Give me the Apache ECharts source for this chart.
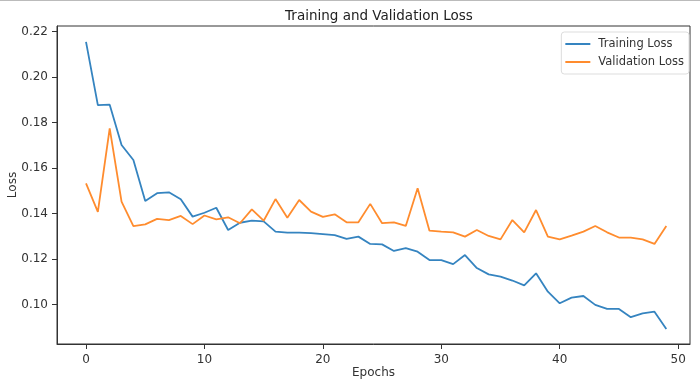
<!DOCTYPE html>
<html>
<head>
<meta charset="utf-8">
<script src="https://cdn.jsdelivr.net/npm/echarts@6/dist/echarts.min.js"></script>
<style>
html,body{margin:0;padding:0;background:#fff;}
#main{width:700px;height:383px;}
</style>
</head>
<body>
<div id="main"></div>
<script>
const epochs = Array.from({length: 50}, (_, i) => i);
const trainingLoss = [
  0.2155, 0.1877, 0.1879, 0.1702, 0.1636, 0.1456, 0.1490, 0.1494, 0.1463, 0.1387,
  0.1404, 0.1426, 0.1328, 0.1360, 0.1369, 0.1366, 0.1321, 0.1317, 0.1317, 0.1314,
  0.1310, 0.1306, 0.1289, 0.1299, 0.1267, 0.1265, 0.1236, 0.1248, 0.1233, 0.1196,
  0.1196, 0.1178, 0.1218, 0.1161, 0.1133, 0.1123, 0.1106, 0.1085, 0.1138, 0.1057,
  0.1006, 0.1031, 0.1038, 0.0999, 0.0981, 0.0981, 0.0945, 0.0962, 0.0969, 0.0893
];
const validationLoss = [
  0.1533, 0.1408, 0.1775, 0.1453, 0.1345, 0.1353, 0.1377, 0.1372, 0.1390, 0.1354,
  0.1392, 0.1375, 0.1384, 0.1358, 0.1419, 0.1369, 0.1464, 0.1382, 0.1460, 0.1409,
  0.1386, 0.1397, 0.1362, 0.1362, 0.1443, 0.1358, 0.1362, 0.1346, 0.1512, 0.1325,
  0.1321, 0.1318, 0.1299, 0.1328, 0.1302, 0.1287, 0.1372, 0.1318, 0.1416, 0.1299,
  0.1287, 0.1303, 0.1321, 0.1346, 0.1318, 0.1295, 0.1295, 0.1287, 0.1267, 0.1346
];
const xTicks = [0, 10, 20, 30, 40, 50];
const yTicks = [0.10, 0.12, 0.14, 0.16, 0.18, 0.20, 0.22];

const font = 'DejaVu Sans';
const blue = '#3584c0';
const orange = '#ff8c2e';
const chart = echarts.init(document.getElementById('main'), null, {renderer: 'canvas'});
chart.setOption({
  animation: false,
  backgroundColor: '#fff',
  textStyle: {fontFamily: font},
  title: {
    text: 'Training and Validation Loss',
    left: 374, top: 4, textAlign: 'center',
    textStyle: {fontFamily: font, fontSize: 13.5, fontWeight: 'normal', color: '#222'}
  },
  graphic: [
    {type: 'line', shape: {x1: 0, y1: 0.5, x2: 700, y2: 0.5}, style: {stroke: '#bbb', lineWidth: 1}}
  ],
  legend: {
    right: 11, top: 32, orient: 'vertical',
    icon: 'rect',
    itemWidth: 25, itemHeight: 2, itemGap: 6,
    padding: [6, 5, 6, 4],
    backgroundColor: '#fff', borderColor: '#ddd', borderWidth: 1, borderRadius: 3,
    textStyle: {fontFamily: font, fontSize: 11.5, color: '#333', padding: [0, 0, 0, 3]},
    data: ['Training Loss', 'Validation Loss']
  },
  grid: {left: 57, top: 26, right: 10, bottom: 39, show: true, borderColor: '#333', borderWidth: 1,
    containLabel: false, outerBoundsMode: 'none'},
  xAxis: {
    type: 'value', min: -2.45, max: 51.0,
    name: 'Epochs', nameLocation: 'middle', nameGap: 23, nameMoveOverlap: false,
    nameTextStyle: {fontFamily: font, fontSize: 12, color: '#333'},
    axisLine: {show: true, onZero: false, lineStyle: {color: '#333', width: 1}},
    axisTick: {show: true, inside: false, length: 5, customValues: xTicks, lineStyle: {color: '#333'}},
    axisLabel: {show: true, customValues: xTicks, margin: 10, fontFamily: font, fontSize: 12, color: '#333'},
    splitLine: {show: false}
  },
  yAxis: {
    type: 'value', min: 0.0827, max: 0.2225,
    name: 'Loss', nameLocation: 'middle', nameGap: 38, nameRotate: 90, nameMoveOverlap: false,
    nameTextStyle: {fontFamily: font, fontSize: 12, color: '#333'},
    axisLine: {show: true, onZero: false, lineStyle: {color: '#333', width: 1}},
    axisTick: {show: true, inside: false, length: 5, customValues: yTicks, lineStyle: {color: '#333'}},
    axisLabel: {show: true, customValues: yTicks, margin: 9, fontFamily: font, fontSize: 12, color: '#333',
      formatter: v => v.toFixed(2)},
    splitLine: {show: false}
  },
  series: [
    {
      name: 'Training Loss', type: 'line', symbol: 'none',
      data: epochs.map((e, i) => [e, trainingLoss[i]]),
      lineStyle: {color: blue, width: 1.8}, itemStyle: {color: blue}
    },
    {
      name: 'Validation Loss', type: 'line', symbol: 'none',
      data: epochs.map((e, i) => [e, validationLoss[i]]),
      lineStyle: {color: orange, width: 1.8}, itemStyle: {color: orange}
    }
  ]
});
</script>
</body>
</html>
